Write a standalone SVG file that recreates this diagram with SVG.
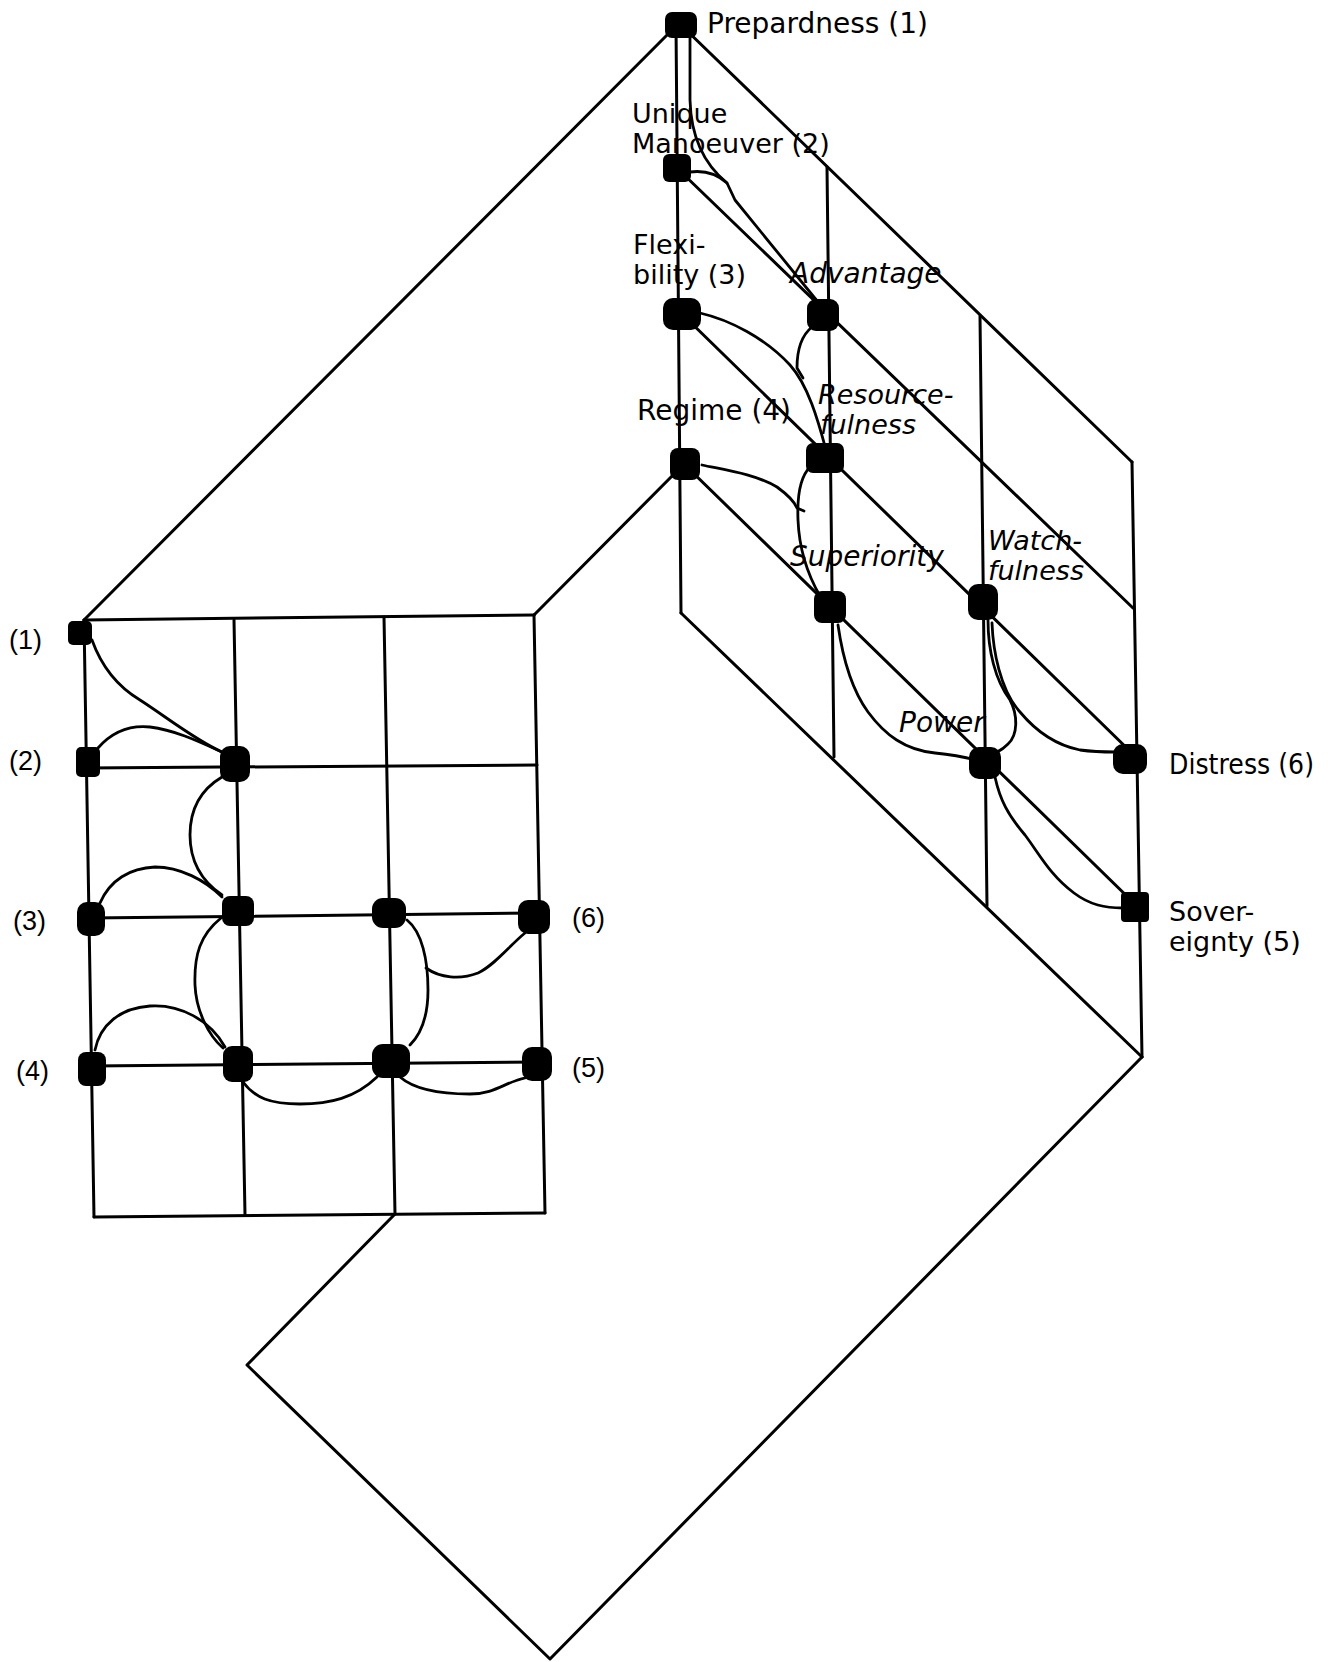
<svg xmlns="http://www.w3.org/2000/svg" width="1329" height="1662" viewBox="0 0 1329 1662">
<style>
.ln{stroke:#000;stroke-width:3;fill:none;stroke-linecap:round;stroke-linejoin:round}
.cv{stroke:#000;stroke-width:2.8;fill:none;stroke-linecap:round;stroke-linejoin:round}
.nd{fill:#000}
.lb{font-family:"DejaVu Sans","Liberation Sans",sans-serif;font-size:28px;fill:#000}
.l2{font-size:27px}
.it{font-style:italic}
.nm{font-family:"Liberation Sans",Arial,sans-serif;font-size:27px;fill:#000}
</style>
<rect width="1329" height="1662" fill="#fff"/>
<g id="frame" class="ln">
  <path d="M677,25 L84,620"/>
  <path d="M676,25 L681,613"/>
  <path d="M681,25 L1132,462"/>
  <path d="M679,170 L1133,608"/>
  <path d="M682,314 L1136,757"/>
  <path d="M685,465 L1138,907"/>
  <path d="M681,613 L1142,1057"/>
  <path d="M827,167 L834,757"/>
  <path d="M980,316 L987,906"/>
  <path d="M1132,462 L1142,1057"/>
  <path d="M681,467 L534,615"/>
  <path d="M1142,1057 L550,1659 L247,1365 L395,1214"/>
  <path d="M84,620 L94,1217"/>
  <path d="M234,620 L245,1215"/>
  <path d="M384,617 L395,1214"/>
  <path d="M534,615 L545,1213"/>
  <path d="M84,620 L534,615"/>
  <path d="M86,768 L537,765"/>
  <path d="M89,918 L540,913"/>
  <path d="M91,1066 L542,1062"/>
  <path d="M94,1217 L545,1213"/>
</g>
<g id="connectors" class="cv">
  <path d="M92,640 C102,668 120,688 140,700 C165,716 195,740 222,752"/>
  <path d="M98,748 C112,732 130,725 150,727 C175,730 200,742 222,752"/>
  <path d="M222,777 C200,790 190,810 190,835 C190,860 200,880 222,895"/>
  <path d="M100,903 C110,880 130,868 155,867 C180,867 205,880 222,897"/>
  <path d="M221,918 C200,935 194,955 195,985 C196,1010 208,1035 223,1048"/>
  <path d="M95,1050 C100,1025 120,1008 150,1006 C180,1004 210,1020 225,1047"/>
  <path d="M243,1082 C255,1098 270,1104 300,1104 C330,1104 355,1098 377,1077"/>
  <path d="M407,920 C422,932 428,960 428,990 C428,1020 420,1035 410,1045"/>
  <path d="M426,968 C440,978 460,980 478,973 C495,965 510,945 525,933"/>
  <path d="M400,1077 C415,1090 440,1094 470,1094 C495,1094 505,1082 525,1078"/>
  <path d="M690,36 L690,100 C691,140 705,165 727,183 L735,200 L818,302"/>
  <path d="M690,172 C705,170 717,174 727,183"/>
  <path d="M700,313 C730,320 765,338 790,365 C808,385 818,420 826,450"/>
  <path d="M812,327 C802,335 797,350 797,368 L803,378"/>
  <path d="M702,465 C725,470 755,474 777,487 C788,495 795,503 797,508 L804,511"/>
  <path d="M810,467 C800,477 797,495 798,520 C799,545 805,570 820,596"/>
  <path d="M838,625 C843,660 852,690 868,712 C885,735 905,750 935,753 C955,755 968,758 976,760"/>
  <path d="M988,620 C988,650 995,680 1010,700 C1018,715 1018,735 1008,744 C1000,752 995,753 990,754"/>
  <path d="M992,623 C993,650 1000,690 1020,712 C1035,730 1055,745 1080,750 C1095,752 1105,752 1115,752"/>
  <path d="M995,777 C1000,800 1008,815 1025,835 C1040,855 1050,875 1074,893 C1090,905 1105,908 1123,908"/>
</g>
<g id="n-prep"><rect class="nd" x="665" y="12" width="32" height="26" rx="7"/><text class="lb" x="707" y="33">Prepardness (1)</text></g>
<g id="n-um"><rect class="nd" x="663" y="154" width="28" height="28" rx="6"/><text class="lb l2" x="632" y="123">Unique<tspan x="632" dy="30">Manoeuver (2)</tspan></text></g>
<g id="n-flex"><rect class="nd" x="663" y="298" width="38" height="32" rx="10"/><text class="lb l2" x="633" y="254">Flexi-<tspan x="633" dy="30">bility (3)</tspan></text></g>
<g id="n-adv"><rect class="nd" x="807" y="299" width="32" height="32" rx="9"/><text class="lb it" x="790" y="283">Advantage</text></g>
<g id="n-reg"><rect class="nd" x="670" y="448" width="30" height="32" rx="8"/><text class="lb" x="637" y="420">Regime (4)</text></g>
<g id="n-res"><rect class="nd" x="806" y="443" width="38" height="30" rx="7"/><text class="lb l2 it" x="818" y="404">Resource-<tspan x="820" dy="30">fulness</tspan></text></g>
<g id="n-sup"><rect class="nd" x="814" y="591" width="32" height="32" rx="8"/><text class="lb it" x="790" y="566">Superiority</text></g>
<g id="n-watch"><rect class="nd" x="968" y="584" width="30" height="36" rx="10"/><text class="lb l2 it" x="988" y="550">Watch-<tspan x="988" dy="30">fulness</tspan></text></g>
<g id="n-power"><rect class="nd" x="969" y="747" width="32" height="32" rx="10"/><text class="lb it" x="899" y="732">Power</text></g>
<g id="n-distress"><rect class="nd" x="1113" y="744" width="34" height="30" rx="10"/><text class="lb" x="1169" y="774" textLength="145" lengthAdjust="spacingAndGlyphs">Distress (6)</text></g>
<g id="n-sov"><rect class="nd" x="1121" y="892" width="28" height="30" rx="4"/><text class="lb l2" x="1169" y="921">Sover-<tspan x="1169" dy="30">eignty (5)</tspan></text></g>
<g id="l-1"><rect class="nd" x="68" y="621" width="24" height="24" rx="5"/><text class="nm" x="9" y="649">(1)</text></g>
<g id="l-2"><rect class="nd" x="76" y="747" width="24" height="30" rx="5"/><text class="nm" x="9" y="770">(2)</text></g>
<g id="l-22"><rect class="nd" x="220" y="746" width="30" height="36" rx="10"/></g>
<g id="l-3"><rect class="nd" x="77" y="902" width="28" height="34" rx="10"/><text class="nm" x="13" y="930">(3)</text></g>
<g id="l-23"><rect class="nd" x="222" y="896" width="32" height="30" rx="8"/></g>
<g id="l-33"><rect class="nd" x="372" y="898" width="34" height="30" rx="11"/></g>
<g id="l-6"><rect class="nd" x="518" y="900" width="32" height="34" rx="10"/><text class="nm" x="572" y="927">(6)</text></g>
<g id="l-4"><rect class="nd" x="78" y="1052" width="28" height="34" rx="8"/><text class="nm" x="16" y="1080">(4)</text></g>
<g id="l-24"><rect class="nd" x="223" y="1046" width="30" height="36" rx="9"/></g>
<g id="l-34"><rect class="nd" x="372" y="1044" width="38" height="34" rx="11"/></g>
<g id="l-5"><rect class="nd" x="522" y="1047" width="30" height="34" rx="10"/><text class="nm" x="572" y="1077">(5)</text></g>
</svg>
